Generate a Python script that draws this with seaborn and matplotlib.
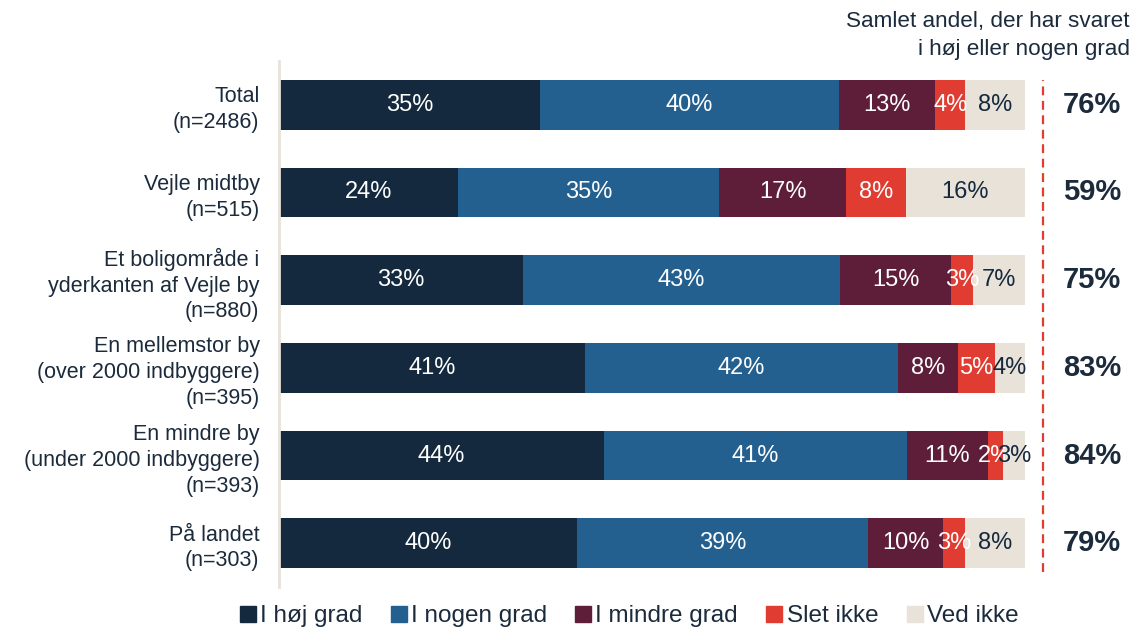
import numpy as np
import pandas as pd
import matplotlib
matplotlib.use("Agg")
import matplotlib.pyplot as plt
from matplotlib.lines import Line2D
import seaborn as sns

categories = ["Total\n(n=2486)",
              "Vejle midtby\n(n=515)",
              "Et boligområde i\nyderkanten af Vejle by\n(n=880)",
              "En mellemstor by\n(over 2000 indbyggere)\n(n=395)",
              "En mindre by\n(under 2000 indbyggere)\n(n=393)",
              "På landet\n(n=303)"]
series = ["I høj grad", "I nogen grad", "I mindre grad", "Slet ikke", "Ved ikke"]
hoej = [35, 24, 33, 41, 44, 40]
nogen = [40, 35, 43, 42, 41, 39]
mindre = [13, 17, 15, 8, 11, 10]
slet = [4, 8, 3, 5, 2, 3]
ved = [8, 16, 7, 4, 3, 8]
totals = [76, 59, 75, 83, 84, 79]

colors = ["#14293d", "#23608f", "#5e1e3a", "#e03c31", "#e8e2d8"]
text_colors = ["white", "white", "white", "white", "#14293d"]
navy = "#1b2b3c"

sns.set_style("white")
plt.rcParams['font.family'] = ['Liberation Sans', 'DejaVu Sans']

vals = np.array([hoej, nogen, mindre, slet, ved], dtype=float)
vals = vals / vals.sum(axis=0) * 100  # bars are stretched to 100%
ends = vals.cumsum(axis=0)
starts = ends - vals

df = pd.DataFrame({"kategori": categories})
for i, s in enumerate(series):
    df[s] = ends[i]

fig = plt.figure(figsize=(11.34, 6.3), dpi=100)
ax = fig.add_axes([279 / 1134, 1 - 587 / 630, 746 / 1134, 526 / 630])

# stacked bars: draw cumulative totals from the outermost segment inward
for i in range(len(series) - 1, -1, -1):
    sns.barplot(data=df, x=series[i], y="kategori", order=categories, orient="h",
                color=colors[i], saturation=1, width=0.57, linewidth=0, ax=ax)

raw = [hoej, nogen, mindre, slet, ved]
for i in range(len(series)):
    for j in range(len(categories)):
        ax.text((starts[i, j] + ends[i, j]) / 2, j, f"{raw[i][j]}%",
                ha="center", va="center", color=text_colors[i], fontsize=17)

for j, t in enumerate(totals):
    ax.text(109.0, j, f"{t}%", ha="center", va="center", fontsize=21,
            fontweight="bold", color=navy, clip_on=False)

ax.axvline(102.4, ymin=0.029, ymax=0.964, color="#e03c31", lw=1.6,
           ls=(0, (4, 2.5)), clip_on=False)

ax.set_xlim(0, 100)
ax.set_ylim(5.5, -0.5)
ax.set_xlabel("")
ax.set_ylabel("")
ax.set_xticks([])
ax.tick_params(axis="y", length=0, pad=14, labelsize=15.5, labelcolor=navy)
for lab in ax.get_yticklabels():
    lab.set_linespacing(1.3)
for s in ["top", "right", "bottom"]:
    ax.spines[s].set_visible(False)
ax.spines["left"].set_color("#e8e2d8")
ax.spines["left"].set_linewidth(2)

fig.text(1130 / 1134, 1 - 35.5 / 630, "Samlet andel, der har svaret\ni høj eller nogen grad",
         ha="right", va="center", fontsize=16.2, color=navy, linespacing=1.45)

handles = [Line2D([], [], marker="s", ls="", color=c, markersize=11) for c in colors]
fig.legend(handles, series, loc="center", bbox_to_anchor=(0.555, 1 - 616 / 630), ncol=5,
           frameon=False, fontsize=17.5, handlelength=0.6, handletextpad=0.2,
           columnspacing=1.2, labelcolor=navy)

fig.savefig("out.png", dpi=100)
